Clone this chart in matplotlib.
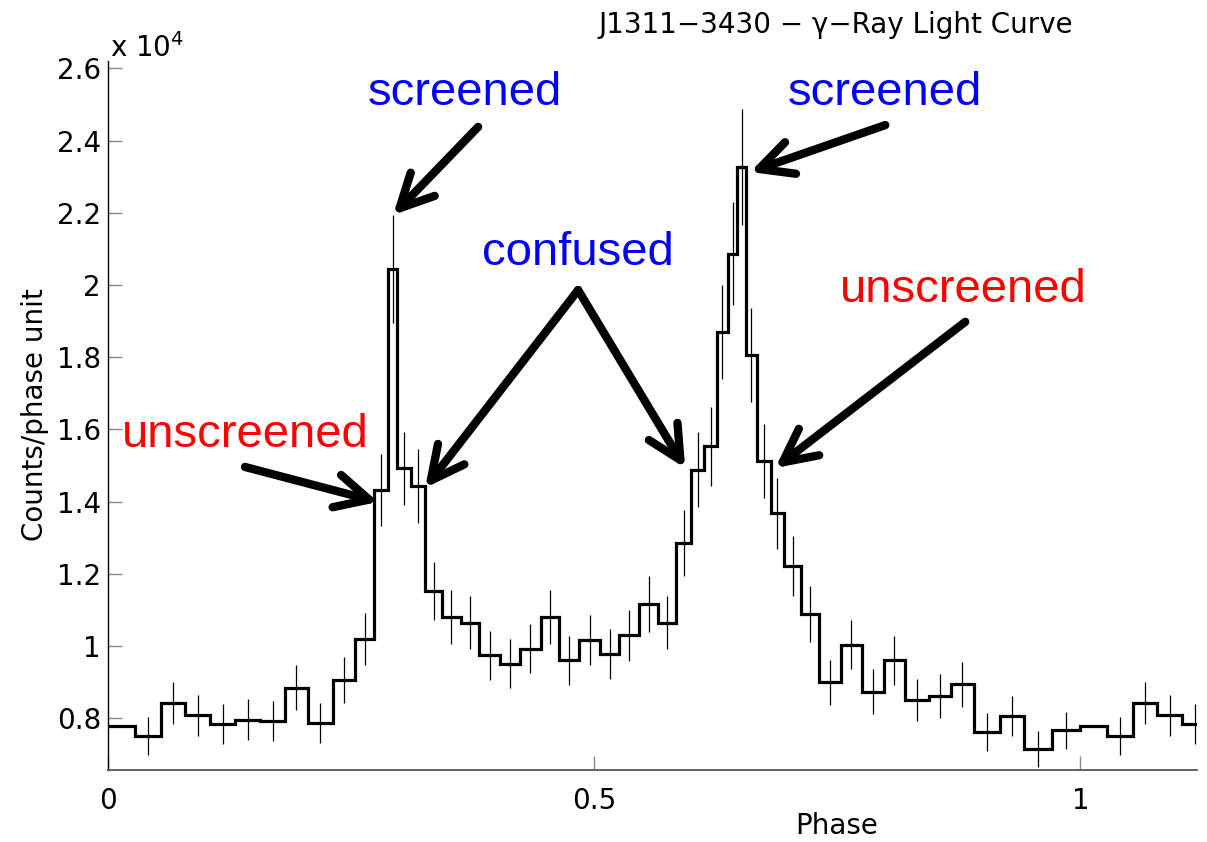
import numpy as np
import matplotlib.pyplot as plt
from matplotlib.ticker import FormatStrFormatter

# variable-width phase bins over one rotation
edges = [0.0, 0.0278, 0.0545, 0.0792, 0.1049, 0.1307, 0.1564, 0.1821, 0.2052, 0.2315,
         0.2541, 0.2737, 0.2884, 0.2976, 0.3121, 0.3261, 0.3436, 0.3627, 0.3820, 0.4033,
         0.4239, 0.4450, 0.4643, 0.4849, 0.5057, 0.5260, 0.5466, 0.5652, 0.5844, 0.5995,
         0.6132, 0.6262, 0.6372, 0.6474, 0.6564, 0.6672, 0.6814, 0.6955, 0.7127, 0.7311,
         0.7541, 0.7750, 0.7980, 0.8196, 0.8439, 0.8669, 0.8902, 0.9170, 0.9424, 0.9709, 1.0]

# counts / phase unit (x 1e4)
counts = [0.778, 0.751, 0.841, 0.808, 0.783, 0.796, 0.792, 0.884, 0.786, 0.906,
          1.020, 1.432, 2.045, 1.492, 1.444, 1.152, 1.080, 1.065, 0.974, 0.951,
          0.993, 1.080, 0.960, 1.016, 0.978, 1.030, 1.116, 1.065, 1.285, 1.488,
          1.553, 1.869, 2.087, 2.327, 1.806, 1.512, 1.368, 1.222, 1.089, 0.899,
          1.004, 0.873, 0.960, 0.850, 0.861, 0.894, 0.762, 0.806, 0.715, 0.767]

# 1-sigma errors (x 1e4)
errors = [0.053, 0.053, 0.058, 0.056, 0.055, 0.056, 0.055, 0.062, 0.055, 0.063,
          0.072, 0.099, 0.149, 0.101, 0.102, 0.081, 0.075, 0.074, 0.068, 0.068,
          0.069, 0.075, 0.068, 0.070, 0.069, 0.071, 0.077, 0.074, 0.092, 0.104,
          0.109, 0.130, 0.143, 0.161, 0.129, 0.103, 0.098, 0.084, 0.077, 0.063,
          0.069, 0.062, 0.067, 0.059, 0.061, 0.062, 0.053, 0.056, 0.050, 0.051]

edges = np.array(edges)
counts = np.array(counts)
errors = np.array(errors)

# repeat the profile for a second rotation
edges2 = np.concatenate([edges, edges[1:] + 1])
counts2 = np.concatenate([counts, counts])
errors2 = np.concatenate([errors, errors])
centers = 0.5 * (edges[:-1] + edges[1:])
centers2 = np.concatenate([centers, centers + 1])
keep = np.ones(len(centers2), bool)
keep[[0, len(centers)]] = False

mfont = ['DejaVu Sans']
afont = ['Liberation Sans', 'DejaVu Sans']
plt.rcParams['mathtext.fontset'] = 'dejavusans'

fig = plt.figure(figsize=(12.07, 8.42), dpi=100)
ax = fig.add_axes([108/1207, 72/842, 1089/1207, 709/842])

ax.stairs(counts2, edges2, color='k', lw=2.3, baseline=None)
ax.errorbar(centers2[keep], counts2[keep], yerr=errors2[keep], fmt='none',
            ecolor='k', elinewidth=0.9)

ax.set_xlim(0, 1.12)
ax.set_ylim(0.6565, 2.6205)
ax.set_xticks([0, 0.5, 1])
ax.set_yticks(np.arange(0.8, 2.61, 0.2))
ax.xaxis.set_major_formatter(FormatStrFormatter('%g'))
ax.yaxis.set_major_formatter(FormatStrFormatter('%g'))
ax.spines['top'].set_visible(False)
ax.spines['right'].set_visible(False)
ax.spines['bottom'].set_color('#555555')
ax.spines['bottom'].set_linewidth(1.3)
ax.spines['left'].set_linewidth(1.0)
ax.tick_params(direction='in', length=10, color='#888888', width=1, labelsize=20)
ax.tick_params(axis='x', pad=12)
ax.tick_params(axis='y', pad=5)
for lab in ax.get_xticklabels() + ax.get_yticklabels():
    lab.set_family(mfont)

fig.text(110/1207, 1 - 57/842, r'x 10$^4$', fontsize=20, family=mfont,
         ha='left', va='baseline')
fig.text(836/1207, 1 - 25/842, 'J1311\u22123430 \u2212 \u03b3\u2212Ray Light Curve',
         fontsize=20, family=mfont, ha='center', va='center')
fig.text(837/1207, 1 - 826/842, 'Phase', fontsize=20, family=mfont,
         ha='center', va='center')
fig.text(35/1207, 1 - 415/842, 'Counts/phase unit', fontsize=20, family=mfont,
         rotation=90, ha='center', va='center')

# labels on the peaks
labels = [('screened', 0.3670, 2.50, 'blue'),
          ('screened', 0.7990, 2.50, 'blue'),
          ('confused', 0.4835, 2.055, 'blue'),
          ('unscreened', 0.1409, 1.551, 'red'),
          ('unscreened', 0.8796, 1.953, 'red')]
for txt, lx, ly, col in labels:
    ax.text(lx, ly, txt, color=col, fontsize=34, family=afont,
            ha='center', va='baseline')

# arrows: (tail, tip) in data coordinates
arrows = [((0.3807, 2.438), (0.2932, 2.194)),
          ((0.7994, 2.443), (0.6605, 2.313)),
          ((0.4835, 1.986), (0.3261, 1.438)),
          ((0.4835, 1.986), (0.5936, 1.493)),
          ((0.1409, 1.496), (0.2778, 1.399)),
          ((0.8817, 1.898), (0.6862, 1.493))]
for tail, tip in arrows:
    ax.annotate('', xy=tip, xytext=tail,
                arrowprops=dict(arrowstyle='->,head_length=1.2,head_width=0.6',
                                lw=6, color='k', shrinkA=0, shrinkB=0,
                                mutation_scale=20, capstyle='round',
                                joinstyle='round'))

fig.savefig('out.png', dpi=100)
